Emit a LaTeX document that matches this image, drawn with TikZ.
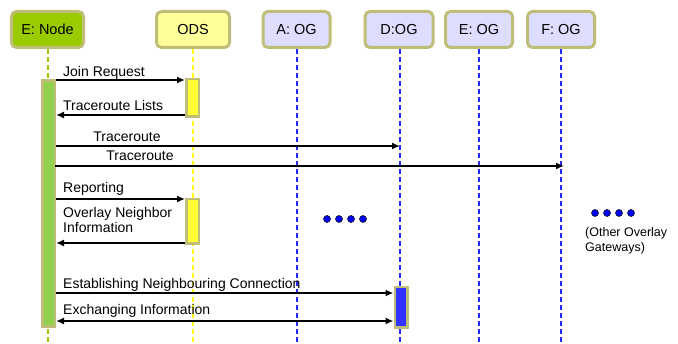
\documentclass[tikz,border=0pt]{standalone}
\usepackage{fontspec}
\setmainfont{Liberation Sans}
\usetikzlibrary{arrows.meta}
\definecolor{bord}{RGB}{190,190,120}
\definecolor{nodegreen}{RGB}{153,204,0}
\definecolor{odsfill}{RGB}{255,255,153}
\definecolor{ogfill}{RGB}{221,221,255}
\definecolor{actgreen}{RGB}{146,208,80}
\definecolor{actyellow}{RGB}{255,255,51}
\definecolor{actblue}{RGB}{51,51,255}
\definecolor{lineblue}{RGB}{40,40,255}
\definecolor{lineyellow}{RGB}{255,255,0}
\definecolor{linegreen}{RGB}{153,204,0}
\definecolor{dotblue}{RGB}{0,0,240}
\tikzset{
  head/.style={draw=bord, line width=3pt, rounded corners=5pt, minimum height=36pt, inner sep=0pt, font=\fontsize{14.5}{16}\selectfont},
  life/.style={line width=2pt, dash pattern=on 5pt off 3pt},
  act/.style={draw=bord, line width=2.5pt, minimum width=12.5pt, inner sep=0pt},
  msg/.style={line width=2pt, -{Latex[length=8pt,width=7pt]}},
  bmsg/.style={line width=2pt, {Latex[length=8pt,width=7pt]}-{Latex[length=8pt,width=7pt]}},
  lbl/.style={font=\fontsize{14}{15}\selectfont, anchor=base west, inner sep=0pt},
  dotn/.style={circle, fill=dotblue, draw=black, line width=0.5pt, minimum size=7pt, inner sep=0pt},
}
\begin{document}
\begin{tikzpicture}[x=1pt,y=-1pt]
\useasboundingbox (0,0) rectangle (678,344);
% heads
\node[head, fill=nodegreen, minimum width=72pt] (hE) at (47.5,29.5) {E: Node};
\node[head, fill=odsfill, minimum width=73pt] (hO) at (193,29.5) {ODS};
\node[head, fill=ogfill, minimum width=67pt] (hA) at (296.5,29.5) {A: OG};
\node[head, fill=ogfill, minimum width=68pt] (hD) at (399,29.5) {D:OG};
\node[head, fill=ogfill, minimum width=67pt] (hEO) at (479,29.5) {E: OG};
\node[head, fill=ogfill, minimum width=67pt] (hF) at (561,29.5) {F: OG};
% lifeline ends
\coordinate (eE) at (47.5,344);
\coordinate (eO) at (193,344);
\coordinate (eA) at (296.5,344);
\coordinate (eD) at (400,344);
\coordinate (eEO) at (479,344);
\coordinate (eF) at (561,344);
\draw[life, draw=linegreen] (hE.south) -- (eE);
\draw[life, draw=lineyellow] (hO.south) -- (eO);
\draw[life, draw=lineblue] (hA.south) -- (eA);
\draw[life, draw=lineblue] ([xshift=1pt]hD.south) -- (eD);
\draw[life, draw=lineblue] (hEO.south) -- (eEO);
\draw[life, draw=lineblue] (hF.south) -- (eF);
% activations
\node[act, fill=actgreen, minimum height=246pt] (aE) at (48.5,203.5) {};
\node[act, fill=actyellow, minimum height=37.5pt] (aO1) at (192.5,98) {};
\node[act, fill=actyellow, minimum height=44.5pt] (aO2) at (192.5,221.5) {};
\node[act, fill=actblue, minimum height=40.5pt] (aD) at (401,307.5) {};
% messages
\draw[msg] (aE.east |- 0,80) -- (aO1.west |- 0,80);
\node[lbl] (tJ) at (63,77) {Join Request};
\draw[msg] (aO1.west |- 0,115) -- (aE.east |- 0,115);
\node[lbl] (tT) at (63,111) {Traceroute Lists};
\draw[msg] (aE.east |- 0,146) -- (eD |- 0,146);
\node[lbl, anchor=base] (tR1) at (127,142) {Traceroute};
\draw[msg] ([xshift=-1pt]aE.east |- 0,166) -- ([xshift=3pt]eF |- 0,166);
\node[lbl, anchor=base] (tR2) at (140,161) {Traceroute};
\draw[msg] (aE.east |- 0,199) -- (aO2.west |- 0,199);
\node[lbl] (tRep) at (63,193) {Reporting};
\draw[msg] (aO2.west |- 0,243) -- (aE.east |- 0,243);
\node[lbl, anchor=north west, align=left] (tON) at (63,207.6) {Overlay Neighbor\\Information};
\draw[msg] (aE.east |- 0,293) -- (aD.west |- 0,293);
\node[lbl] (tEst) at (63,289) {Establishing Neighbouring Connection};
\draw[bmsg] (aE.east |- 0,321) -- (aD.west |- 0,321);
\node[lbl] (tEx) at (63,315) {Exchanging Information};
% dots
\node[dotn] (d1) at (327,219) {};
\node[dotn] (d2) at (339,219) {};
\node[dotn] (d3) at (351,219) {};
\node[dotn] (d4) at (363,219) {};
\node[dotn] (r1) at (595,213) {};
\node[dotn] (r2) at (607,213) {};
\node[dotn] (r3) at (619,213) {};
\node[dotn] (r4) at (631,213) {};
\node[anchor=north west, align=left, inner sep=0pt, font=\fontsize{12.5}{15}\selectfont] (tOther) at (585,227) {(Other Overlay\\Gateways)};
\end{tikzpicture}
\end{document}
